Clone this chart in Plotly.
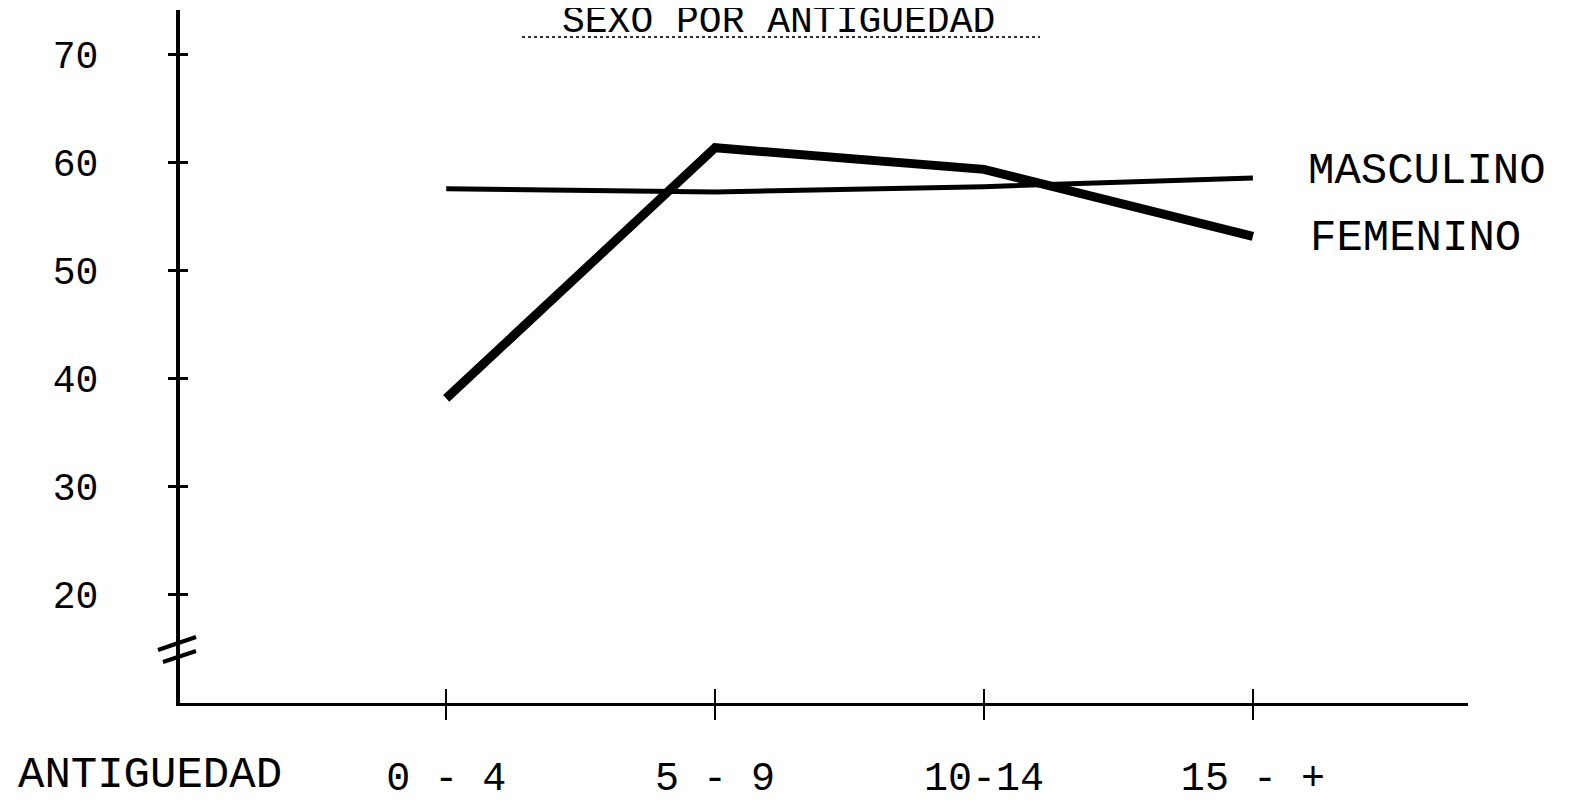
import plotly.graph_objects as go

# ---- data ----
categories = ["0 - 4", "5 - 9", "10-14", "15 - +"]
masculino = [57.6, 57.3, 57.8, 58.6]
femenino = [38.2, 61.4, 59.4, 53.2]
y_ticks = [20, 30, 40, 50, 60, 70]

title_text = "SEXO POR ANTIGUEDAD"
x_title = "ANTIGUEDAD"

# ---- layout geometry (page pixels; the page body has an 8px margin) ----
PAGE_W, PAGE_H = 1572, 809
OFF = 8
W, H = PAGE_W - 2 * OFF, PAGE_H - 2 * OFF
L, R, T, B = 180 - OFF, 1468 - OFF, 10 - OFF, 703 - OFF
FONT = "Liberation Mono, Courier New, monospace"


def px(x):
    """page pixel x -> paper coordinate"""
    return (x - OFF - L) / (R - L)


def py(y):
    """page pixel y -> paper coordinate"""
    return (B - (y - OFF)) / (B - T)


x_idx = list(range(len(categories)))
x_range = [-0.99, 3.80]
y_range = [10.0, 74.15]

fig = go.Figure()
fig.add_trace(go.Scatter(
    x=x_idx, y=femenino, mode="lines", name="FEMENINO",
    line=dict(color="black", width=9), xaxis="x", yaxis="y",
    showlegend=False, cliponaxis=False,
))
fig.add_trace(go.Scatter(
    x=x_idx, y=masculino, mode="lines", name="MASCULINO",
    line=dict(color="black", width=5), xaxis="x2", yaxis="y2",
    showlegend=False, cliponaxis=False,
))

axis_common = dict(showgrid=False, zeroline=False, automargin=False)
fig.update_layout(
    width=W, height=H,
    margin=dict(l=L, r=W - R, t=T, b=H - B, pad=0),
    plot_bgcolor="white", paper_bgcolor="white",
    font=dict(family=FONT, color="black", size=40),
    xaxis=dict(
        range=x_range, tickvals=x_idx, ticktext=categories,
        ticks="outside", ticklen=14, tickwidth=2, tickcolor="black",
        showline=True, linecolor="black", linewidth=3,
        ticklabelstandoff=22,
        tickfont=dict(family=FONT, size=40, color="black"),
        **axis_common,
    ),
    xaxis2=dict(
        range=x_range, tickvals=x_idx, overlaying="x", anchor="y2",
        ticks="inside", ticklen=14, tickwidth=2, tickcolor="black",
        showticklabels=False, showline=False, side="bottom",
        **axis_common,
    ),
    yaxis=dict(
        range=y_range, tickvals=y_ticks,
        ticks="outside", ticklen=8, tickwidth=3, tickcolor="black",
        showline=True, linecolor="black", linewidth=4,
        ticklabelstandoff=62,
        tickfont=dict(family=FONT, size=38, color="black"),
        **axis_common,
    ),
    yaxis2=dict(
        range=y_range, tickvals=y_ticks, overlaying="y", anchor="x2",
        side="left", ticks="inside", ticklen=8, tickwidth=3,
        tickcolor="black", showticklabels=False, showline=False,
        **axis_common,
    ),
)

# title and its dotted underline
fig.add_annotation(
    text=title_text, xref="paper", yref="paper",
    x=px(778), y=py(22), xanchor="center", yanchor="middle",
    showarrow=False, font=dict(family=FONT, size=38, color="black"),
)
fig.add_shape(
    type="line", xref="paper", yref="paper",
    x0=px(522), x1=px(1040), y0=py(37), y1=py(37),
    line=dict(color="#333", width=2, dash="dot"),
)

# series labels
fig.add_annotation(
    text="MASCULINO", xref="paper", yref="paper",
    x=px(1306), y=py(171), xanchor="left", yanchor="middle",
    showarrow=False, font=dict(family=FONT, size=44, color="black"),
)
fig.add_annotation(
    text="FEMENINO", xref="paper", yref="paper",
    x=px(1308), y=py(238), xanchor="left", yanchor="middle",
    showarrow=False, font=dict(family=FONT, size=44, color="black"),
)

# x-axis title at left of the tick labels
fig.add_annotation(
    text=x_title, xref="paper", yref="paper",
    x=px(16), y=py(775), xanchor="left", yanchor="middle",
    showarrow=False, font=dict(family=FONT, size=44, color="black"),
)

# axis break marks
for (x0, y0, x1, y1) in [(158, 650, 196, 637), (163, 662, 196, 651)]:
    fig.add_shape(
        type="line", xref="paper", yref="paper",
        x0=px(x0), y0=py(y0), x1=px(x1), y1=py(y1),
        line=dict(color="black", width=4),
    )

fig.write_html("out.html")
